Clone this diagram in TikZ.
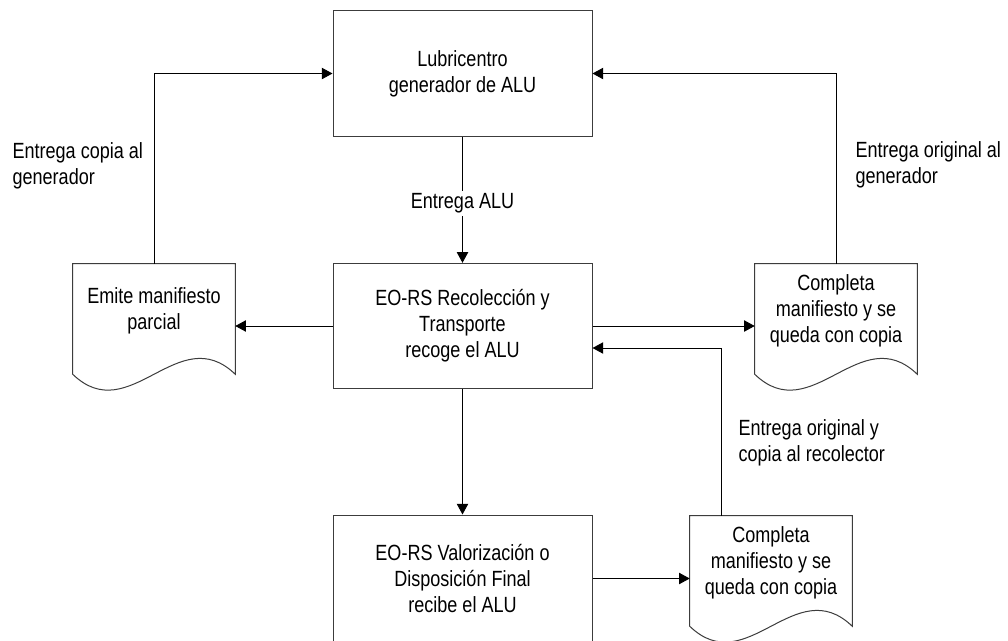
\documentclass[tikz,border=0pt]{standalone}
\usepackage{fontspec}
\setmainfont{Liberation Sans}[FakeStretch=0.82]
\usepackage{tikz}
\usetikzlibrary{arrows.meta, positioning, calc}
\definecolor{myline}{RGB}{60,60,60}
\definecolor{mydark}{RGB}{0,0,0}
\tikzset{
  procbox/.style={rectangle, draw=myline, fill=white,
    minimum width=194.25pt, minimum height=94pt, inner sep=0pt,
    align=center, font=\fontsize{16.5}{19.5}\selectfont, line width=0.75pt},
  docbox/.style={rectangle, minimum width=121.5pt, minimum height=70.5pt,
    inner sep=0pt, align=center, font=\fontsize{16.5}{19.5}\selectfont},
  docline/.style={draw=myline, fill=white, line width=0.75pt},
  lbl/.style={inner sep=1pt, align=left, anchor=west,
    font=\fontsize{16.5}{19.5}\selectfont},
  arrow/.style={-{Triangle[length=8pt, width=8.5pt]}, line width=0.75pt, color=mydark},
  line/.style={line width=0.75pt, color=mydark}
}
% document symbol: straight top and sides, wavy bottom
\newcommand{\docoutline}[1]{%
  \draw[docline] (#1.north west) -- (#1.north east) -- ($(#1.south east)+(0,16)$)
    .. controls +(-57,-55) and +(57,55) .. ($(#1.south west)+(0,16)$) -- cycle;}

\begin{document}
\begin{tikzpicture}[x=0.75pt, y=-0.75pt]
  \useasboundingbox (0,0) rectangle (1008,640);

  % Process boxes
  \node[procbox] (gen) at (462.5,73.5) {Lubricentro\\generador de ALU};
  \node[procbox] (rec) at (462.5,326) {EO-RS Recolección y\\Transporte\\recoge el ALU};
  \node[procbox, minimum height=95.25pt] (fin) at (462.5,578.5) {EO-RS Valorización o\\Disposición Final\\recibe el ALU};

  % Manifest documents
  \node[docbox] (parc) at (154,311) {};
  \docoutline{parc}
  \node[docbox] at (parc) {Emite manifiesto\\parcial};
  \node[docbox] (compr) at (836,311) {};
  \docoutline{compr}
  \node[docbox] at (compr) {Completa\\manifiesto y se\\queda con copia};
  \node[docbox] (compf) at (771,563) {};
  \docoutline{compf}
  \node[docbox] at (compf) {Completa\\manifiesto y se\\queda con copia};

  % Flows
  \draw[arrow] (gen) -- node[fill=white, inner sep=2pt, pos=0.53,
    font=\fontsize{16.5}{19.5}\selectfont] (lblalu) {Entrega ALU} (rec);
  \draw[arrow] (parc.north) |- (gen.west);
  \draw[arrow] (rec.west) -- (rec.west -| parc.east);
  \draw[arrow] (rec.east) -- (rec.east -| compr.west);
  \draw[arrow] (compr.north) |- (gen.east);
  \draw[arrow] (rec) -- (fin);
  \draw[arrow] (fin.east) -- (fin.east -| compf.west);
  \coordinate (ret) at ($(compf.north west)+(32,0)$);
  \draw[arrow] (ret) |- ($(rec.east)+(0,22)$);

  % Flow labels
  \node[lbl] (lblcopia) at (11,165.5) {Entrega copia al\\generador};
  \node[lbl] (lblorig) at (854,164.5) {Entrega original al\\generador};
  \node[lbl] (lblreco) at (737,442.5) {Entrega original y\\copia al recolector};
\end{tikzpicture}
\end{document}
